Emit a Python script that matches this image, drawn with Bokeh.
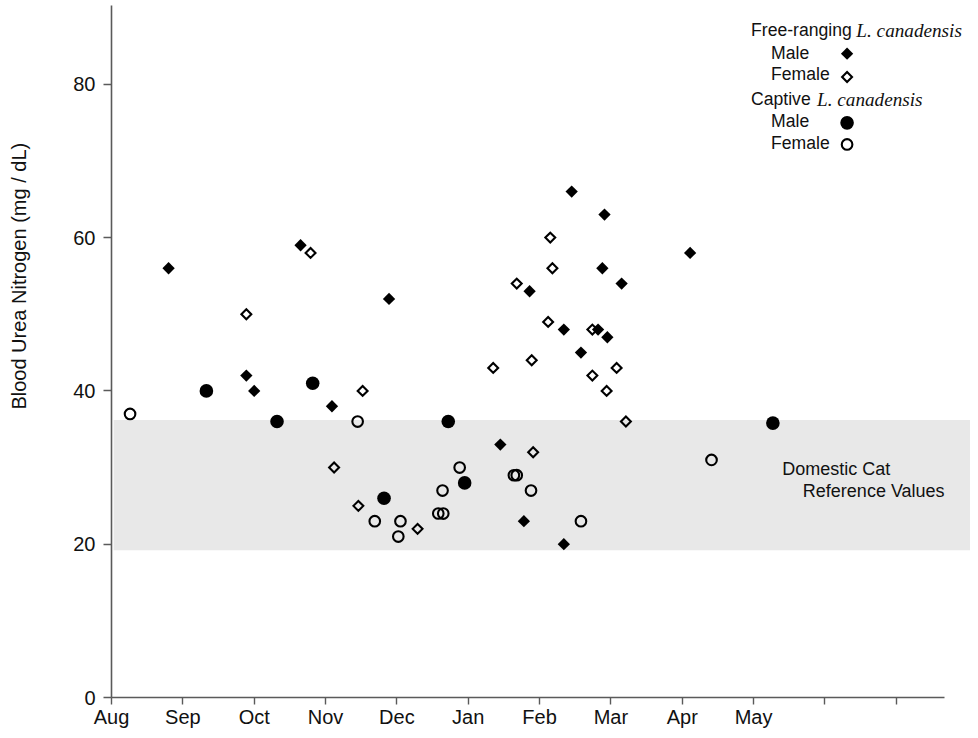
import numpy as np
from bokeh.plotting import figure
from bokeh.layouts import row
from bokeh.models import Range1d, FixedTicker, Label, BoxAnnotation
from bokeh.core.properties import value
from bokeh.embed import file_html
from bokeh.resources import INLINE

# ---------------- data (x = months after 1 August) ----------------
month_ticks = list(range(12))
month_labels = ["Aug", "Sep", "Oct", "Nov", "Dec", "Jan", "Feb", "Mar", "Apr", "May", "", ""]
y_ticks = [0, 20, 40, 60, 80]

free_male_x = [0.80, 1.89, 2.00, 2.65, 3.09, 3.89, 5.45, 5.78, 5.86, 6.34, 6.34,
               6.45, 6.58, 6.82, 6.88, 6.91, 6.95, 7.15, 8.11]
free_male_y = [56, 42, 40, 59, 38, 52, 33, 23, 53, 48, 20,
               66, 45, 48, 56, 63, 47, 54, 58]

free_female_x = [1.89, 2.79, 3.52, 3.12, 3.46, 4.29, 5.35, 5.68, 5.89, 5.91,
                 6.12, 6.15, 6.18, 6.74, 6.74, 6.94, 7.08, 7.21]
free_female_y = [50, 58, 40, 30, 25, 22, 43, 54, 44, 32,
                 49, 60, 56, 48, 42, 40, 43, 36]

captive_male_x = [1.33, 2.32, 2.82, 3.82, 4.72, 4.95, 9.27]
captive_male_y = [40, 36, 41, 26, 36, 28, 35.8]

captive_female_x = [0.26, 3.45, 3.69, 4.05, 4.02, 4.58, 4.65, 4.64, 4.88,
                    5.64, 5.68, 5.88, 6.58, 8.41]
captive_female_y = [37, 36, 23, 23, 21, 24, 24, 27, 30,
                    29, 29, 27, 23, 31]

ref_low, ref_high = 19.2, 36.2   # domestic cat reference range
y_title = "Blood Urea Nitrogen (mg / dL)"

# ---------------- styling constants ----------------
FONT = "Liberation Sans"
SERIF = "Liberation Serif"
AXIS_COLOR = "#5a5a5a"
TEXT_COLOR = "#111111"
H = 730
TOP, BOTTOM = 5, 31
Y_END = 90.28
TITLE_W = 45

# ---------------- y-title strip ----------------
pt = figure(width=TITLE_W, height=H, output_backend="svg", toolbar_location=None,
            x_range=Range1d(0, TITLE_W), y_range=Range1d(0, Y_END),
            min_border_left=0, min_border_right=0, min_border_top=TOP,
            min_border_bottom=BOTTOM, x_axis_type=None, y_axis_type=None,
            background_fill_color="white", border_fill_color="white")
pt.outline_line_color = None
pt.grid.visible = False
pt.text(x=[18.5], y=[54.96], text=[y_title], angle=np.pi / 2,
        text_align="center", text_baseline="middle",
        text_font=value(FONT), text_font_size="20px", text_color=TEXT_COLOR)

# ---------------- main figure ----------------
p = figure(width=970 - TITLE_W, height=H, output_backend="svg", toolbar_location=None,
           x_range=Range1d(0, 12.04), y_range=Range1d(0, Y_END),
           min_border_left=111 - TITLE_W, min_border_right=0, min_border_top=TOP,
           min_border_bottom=BOTTOM, background_fill_color="white",
           border_fill_color="white")
p.outline_line_color = None
p.grid.visible = False

# x axis
xa = p.xaxis[0]
xa.ticker = FixedTicker(ticks=month_ticks)
xa.major_label_overrides = {t: l for t, l in zip(month_ticks, month_labels)}
xa.bounds = (0, 11.68)
xa.minor_tick_line_color = None
xa.major_tick_in = 0
xa.major_tick_out = 7
xa.major_label_standoff = 1
xa.axis_line_color = AXIS_COLOR
xa.axis_line_width = 1.6
xa.major_tick_line_color = AXIS_COLOR
xa.major_tick_line_width = 1.4
xa.major_label_text_font = FONT
xa.major_label_text_font_size = "20px"
xa.major_label_text_color = TEXT_COLOR

# y axis
ya = p.yaxis[0]
ya.ticker = FixedTicker(ticks=y_ticks)
ya.minor_tick_line_color = None
ya.major_tick_in = 0
ya.major_tick_out = 8
ya.major_label_standoff = 8
ya.axis_line_color = AXIS_COLOR
ya.axis_line_width = 1.6
ya.major_tick_line_color = AXIS_COLOR
ya.major_tick_line_width = 1.4
ya.major_label_text_font = FONT
ya.major_label_text_font_size = "20px"
ya.major_label_text_color = TEXT_COLOR

# reference band
p.add_layout(BoxAnnotation(bottom=ref_low, top=ref_high, left=0.03,
                           fill_color="#e8e8e8", fill_alpha=1.0,
                           line_color=None, level="underlay"))

# marker styles
FILLED_DIAMOND = dict(marker="square", angle=np.pi / 4, size=8.7,
                      fill_color="black", line_color=None)
OPEN_DIAMOND = dict(marker="square", angle=np.pi / 4, size=7.0,
                    fill_color=None, line_color="black", line_width=2.1,
                    line_join="miter")
FILLED_CIRCLE = dict(marker="circle", size=13.6, fill_color="black", line_color=None)
OPEN_CIRCLE = dict(marker="circle", size=10.6, fill_color=None,
                   line_color="black", line_width=2.1)

p.scatter(free_male_x, free_male_y, **FILLED_DIAMOND)
p.scatter(free_female_x, free_female_y, **OPEN_DIAMOND)
p.scatter(captive_male_x, captive_male_y, **FILLED_CIRCLE)
p.scatter(captive_female_x, captive_female_y, **OPEN_CIRCLE)

# reference band caption
for tx, ty, t in [(9.40, 29.83, "Domestic Cat"), (9.69, 26.97, "Reference Values")]:
    p.add_layout(Label(x=tx, y=ty, text=t, text_align="left", text_baseline="middle",
                       text_font=FONT, text_font_size="18px", text_color=TEXT_COLOR))

# legend (positions in data units)
def leg_text(x, y, t, font=FONT, style="normal", size="17.6px"):
    p.add_layout(Label(x=x, y=y, text=t, text_align="left", text_baseline="middle",
                       text_font=font, text_font_style=style, text_font_size=size,
                       text_color=TEXT_COLOR))

IT = dict(font=SERIF, style="italic", size="19.2px")
leg_text(8.964, 87.02, "Free-ranging")
leg_text(10.44, 87.02, "L. canadensis", **IT)
leg_text(9.245, 84.10, "Male")
leg_text(9.245, 81.30, "Female")
leg_text(8.964, 78.05, "Captive")
leg_text(9.889, 78.05, "L. canadensis", **IT)
leg_text(9.245, 75.19, "Male")
leg_text(9.245, 72.39, "Female")

mx = 10.31
p.scatter([mx], [83.99], **FILLED_DIAMOND)
p.scatter([mx], [80.95], **OPEN_DIAMOND)
p.scatter([mx], [74.97], **FILLED_CIRCLE)
p.scatter([mx], [72.16], **OPEN_CIRCLE)

layout = row(pt, p, spacing=0)
open("out.html", "w").write(file_html(layout, INLINE))
